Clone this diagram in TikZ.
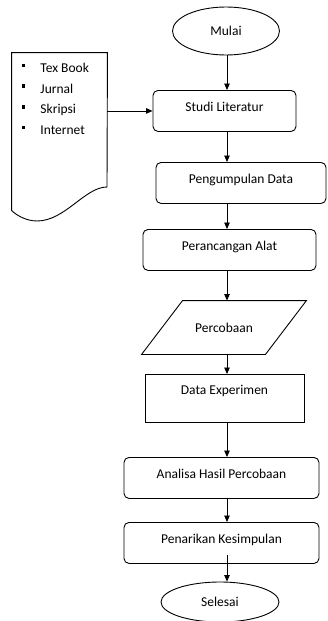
\documentclass[tikz,border=0pt]{standalone}
\usepackage{fontspec}
\setmainfont{Carlito}
\usetikzlibrary{arrows.meta, positioning, shapes.geometric, calc}
\tikzset{
  every picture/.style={font=\fontsize{13.5}{16}\selectfont, line width=0.9pt},
  stepbox/.style={draw, rounded corners=5pt, anchor=north, inner sep=0pt, minimum width=#1, text height=21pt, text depth=20pt},
  terminal/.style={draw, ellipse, inner sep=0pt},
  dot/.style={fill, inner sep=0pt, minimum width=3pt, minimum height=3.6pt},
  entry/.style={anchor=base west, inner sep=0pt},
  arrow/.style={-{Triangle[length=6.5pt, width=5.5pt]}},
}

\begin{document}
\begin{tikzpicture}[x=1pt, y=-1pt]
  \useasboundingbox (0,0) rectangle (327,621);
  \coordinate (axis) at (227,0);
  % main flow, top to bottom
  \node[terminal, minimum width=107pt, minimum height=48pt] (mulai) at (226,31) {Mulai};
  \node[stepbox=143pt] (studi) at (224.5,90) {Studi Literatur};
  \node[stepbox=170pt] (kumpul) at (241,162) {Pengumpulan Data};
  \node[stepbox=173pt] (rancang) at (229.5,229) {Perancangan Alat};
  \node[minimum width=123pt, minimum height=53pt, inner sep=0pt] (coba) at (224,327.5) {Percobaan};
  \draw ([xshift=20.5pt]coba.north west) -- ([xshift=20.5pt]coba.north east)
    -- ([xshift=-20.5pt]coba.south east) -- ([xshift=-20.5pt]coba.south west) -- cycle;
  \node[draw, anchor=north, inner sep=0pt, minimum width=159pt, text height=20pt, text depth=28pt] (data) at (224.5,374) {Data Experimen};
  \node[stepbox=195pt] (analisa) at (221.5,457) {Analisa Hasil Percobaan};
  \node[stepbox=195pt] (tarik) at (221.5,522) {Penarikan Kesimpulan};
  \node[terminal, minimum width=118pt, minimum height=40pt] (selesai) at (220,602) {Selesai};
  % document with the sources
  \node[minimum width=95pt, minimum height=157pt, inner sep=0pt] (doc) at (59.5,131.5) {};
  \draw (doc.south west) -- (doc.north west) -- (doc.north east) -- (107,187)
    .. controls (85,187) and (65,221) .. (37,221)
    .. controls (25,221) and (15,214) .. (doc.south west);
  \foreach \entry [count=\i] in {Tex Book, Jurnal, Skripsi, Internet} {
    \node[dot] (dot\i) at (23, {65.5+20.6*(\i-1)}) {};
    \node[entry] (item\i) at (40, {72.5+20.6*(\i-1)}) {\entry};
  }
  % connectors
  \foreach \a/\b in {mulai/studi, studi/kumpul, kumpul/rancang, rancang/coba, coba/data, data/analisa, analisa/tarik}
    \draw[arrow] (\a.south -| axis) -- (\b.north -| axis);
  \draw[arrow] ($(tarik.south -| axis)+(0,-9)$) -- (selesai.north -| axis);
  \draw[arrow] (doc.east |- studi.west) -- (studi.west);
\end{tikzpicture}
\end{document}
